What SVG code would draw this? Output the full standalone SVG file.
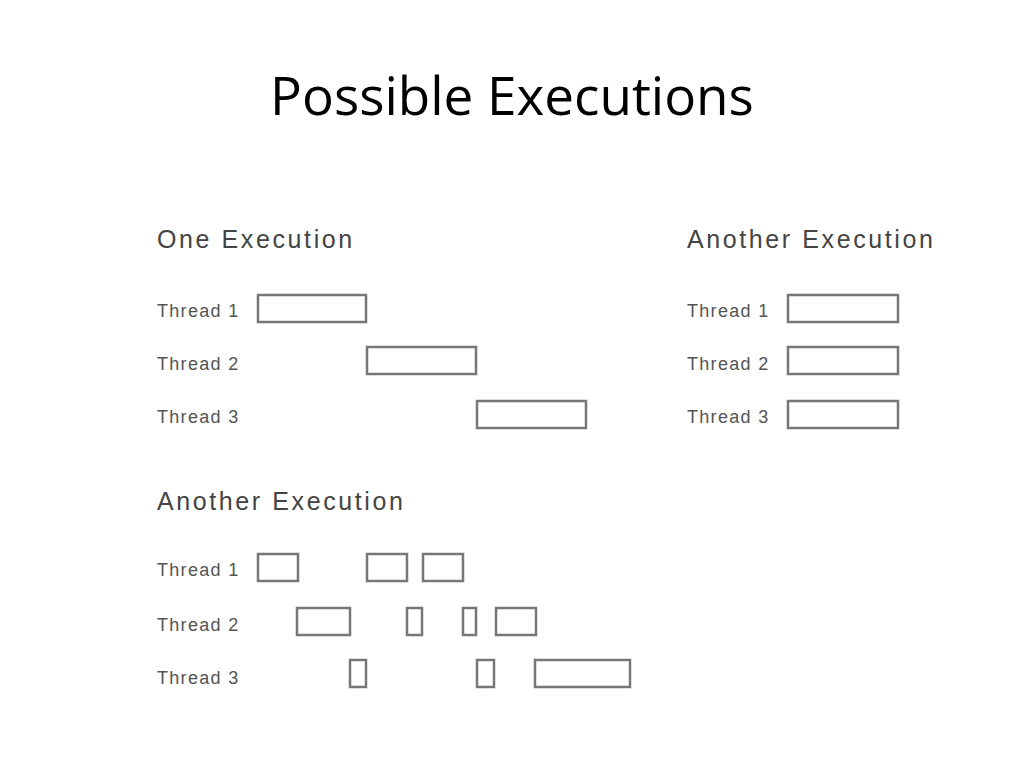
<svg xmlns="http://www.w3.org/2000/svg" width="1024" height="768" viewBox="0 0 1024 768">
<style>
.t{font-family:"Open Sans","Liberation Sans",sans-serif;font-size:53px;fill:#000}
.h{font-family:"Liberation Sans",sans-serif;font-size:25px;letter-spacing:2.6px;fill:#444}
.l{font-family:"Liberation Sans",sans-serif;font-size:18px;letter-spacing:1.3px;fill:#555}
.b{fill:#fff;stroke:#777;stroke-width:2.5}
</style>
<rect width="1024" height="768" fill="#fff"/>
<text class="t" x="512" y="115" text-anchor="middle">Possible Executions</text>
<g id="one">
<text class="h" x="157" y="248">One Execution</text>
<text class="l" x="157" y="317">Thread 1</text>
<text class="l" x="157" y="370">Thread 2</text>
<text class="l" x="157" y="423">Thread 3</text>
<rect class="b" x="258" y="295" width="108" height="27"/>
<rect class="b" x="367" y="347" width="109" height="27"/>
<rect class="b" x="477" y="401" width="109" height="27"/>
</g>
<g id="another1">
<text class="h" x="687" y="248">Another Execution</text>
<text class="l" x="687" y="317">Thread 1</text>
<text class="l" x="687" y="370">Thread 2</text>
<text class="l" x="687" y="423">Thread 3</text>
<rect class="b" x="788" y="295" width="110" height="27"/>
<rect class="b" x="788" y="347" width="110" height="27"/>
<rect class="b" x="788" y="401" width="110" height="27"/>
</g>
<g id="another2">
<text class="h" x="157" y="510">Another Execution</text>
<text class="l" x="157" y="576">Thread 1</text>
<text class="l" x="157" y="631">Thread 2</text>
<text class="l" x="157" y="684">Thread 3</text>
<rect class="b" x="258" y="554" width="40" height="27"/>
<rect class="b" x="367" y="554" width="40" height="27"/>
<rect class="b" x="423" y="554" width="40" height="27"/>
<rect class="b" x="297" y="608" width="53" height="27"/>
<rect class="b" x="407" y="608" width="15" height="27"/>
<rect class="b" x="463" y="608" width="13" height="27"/>
<rect class="b" x="496" y="608" width="40" height="27"/>
<rect class="b" x="350" y="660" width="16" height="27"/>
<rect class="b" x="477" y="660" width="17" height="27"/>
<rect class="b" x="535" y="660" width="95" height="27"/>
</g>
</svg>
